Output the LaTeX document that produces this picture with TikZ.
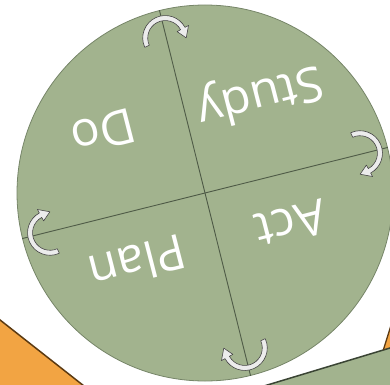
\documentclass[tikz,border=0pt]{standalone}
\usepackage{fontspec}
\setmainfont{Open Sans}
\definecolor{wheelgreen}{HTML}{A2B38E}
\definecolor{wheeledge}{HTML}{768568}
\definecolor{divline}{HTML}{4F5B47}
\definecolor{orangefill}{HTML}{F2A443}
\definecolor{orangeedge}{HTML}{5B3A12}
\definecolor{darkedge}{HTML}{3A4434}
\newcommand\cyclearr[1]{%
  \begin{scope}[shift={(wheel.center)}, rotate=#1, shift={(160,0)}]
    \filldraw[cyclearrow] (100:22.5) arc[start angle=100, end angle=-76, radius=22.5]
      -- (-76:26.5) -- (-104:21) -- (-76:13.5) -- (-76:17.5)
      arc[start angle=-76, end angle=100, radius=17.5] -- cycle;
  \end{scope}}
\begin{document}
\begin{tikzpicture}[x=1pt,y=1pt,
  cyclearrow/.style={fill=gray!15, draw=gray!55!black, line width=0.6pt, line join=round},
  quarter/.style={text=white, font=\fontsize{48.5}{52}\selectfont, rotate=194.4, inner sep=0pt},
  divider/.style={draw=divline, line width=0.9pt},
  wheelstyle/.style={circle, minimum size=376pt, inner sep=0pt, fill=wheelgreen, draw=wheeledge, line width=0.8pt},
  orangepiece/.style={fill=orangefill},
  greenpiece/.style={fill=wheelgreen}]
\clip (0,0) rectangle (390,384);
\useasboundingbox (0,0) rectangle (390,384);
% background pieces
\fill[orangepiece] (-5,68) -- (84,-2) -- (-5,-2) -- cycle;
\draw[orangeedge, line width=1.5pt] (-5,68) -- (84,-2);
\fill[greenpiece] (264,-2) -- (383.3,34) -- (395,37.5) -- (395,-2) -- cycle;
\fill[orangepiece] (383.3,34) -- (393,65) -- (393,36.9) -- cycle;
\draw[darkedge, line width=1.5pt] (264,-2) -- (383.3,34) -- (395,37.5);
\draw[orangeedge, line width=1.3pt] (383.3,34) -- (393,65);
% wheel
\node[wheelstyle] (wheel) at (205,191) {};
\draw[divider] (wheel.14.4) -- (wheel.194.4);
\draw[divider] (wheel.104.4) -- (wheel.284.4);
\cyclearr{14.4}
\cyclearr{104.4}
\cyclearr{194.4}
\cyclearr{284.4}
\node[quarter] (study) at (260,290) {Study};
\node[quarter] (do) at (103.5,252) {Do};
\node[quarter] (act) at (291,160) {Act};
\node[quarter] (plan) at (137.5,121) {Plan};
\end{tikzpicture}
\end{document}
